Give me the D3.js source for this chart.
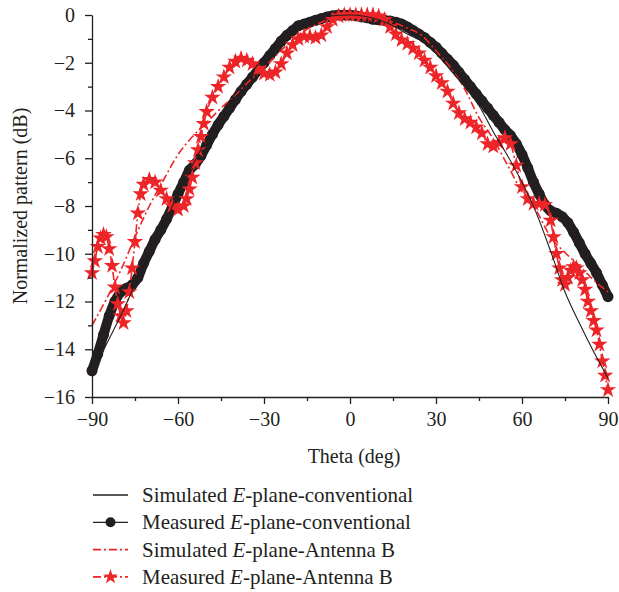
<!DOCTYPE html>
<html>
<head>
<meta charset="utf-8">
<script src="https://cdn.jsdelivr.net/npm/d3@7"></script>
<style>
  body { margin: 0; background: #fff; }
  text { font-family: "Liberation Serif", "DejaVu Serif", serif; fill: #231f20; }
</style>
</head>
<body>
<div class="d3-chart"></div>
<script>
// Simulated curves, every 5 degrees
const simTheta = [-90, -85, -80, -75, -70, -65, -60, -55, -50, -45, -40, -35, -30, -25, -20, -15, -10, -5,
  0, 5, 10, 15, 20, 25, 30, 35, 40, 45, 50, 55, 60, 65, 70, 75, 80, 85, 90];
const simConv = [-15.0, -13.8, -12.6, -11.3, -10.0, -8.8, -7.5, -6.3, -5.2, -4.2, -3.3, -2.5, -1.8, -1.2, -0.7, -0.35, -0.12, -0.02,
  0, -0.05, -0.2, -0.45, -0.8, -1.1, -1.6, -2.3, -3.0, -3.8, -4.9, -5.9, -7.0, -8.3, -9.9, -11.6, -12.9, -14.1, -15.2];
const simB = [-13.0, -11.9, -10.7, -9.3, -8.0, -6.9, -5.85, -5.1, -4.5, -3.9, -3.35, -2.75, -2.2, -1.6, -1.05, -0.6, -0.3, -0.08,
  0, -0.05, -0.15, -0.3, -0.55, -0.85, -1.5, -2.2, -3.1, -4.3, -5.2, -6.3, -7.4, -8.2, -9.3, -9.95, -10.5, -11.1, -11.6];

// Measured conventional, every 2 degrees from -90 to 90
const measConvTheta = d3.range(-90, 91, 2);
const measConv = [-14.9, -14.2, -13.4, -12.6, -12.0, -11.6, -11.45, -11.3, -11.0, -10.4,
  -9.9, -9.4, -9.0, -8.55, -8.05, -7.5, -7.0, -6.5, -6.25, -5.9,
  -5.45, -5.0, -4.6, -4.25, -3.9, -3.55, -3.2, -2.9, -2.6, -2.3,
  -2.0, -1.7, -1.4, -1.1, -0.85, -0.65, -0.45, -0.38, -0.3, -0.22,
  -0.15, -0.08, -0.03, 0, 0, 0, -0.03, -0.08, -0.12, -0.18,
  -0.2, -0.22, -0.25, -0.3, -0.38, -0.5, -0.65, -0.8, -0.95, -1.15,
  -1.35, -1.6, -1.85, -2.1, -2.4, -2.7, -3.0, -3.3, -3.6, -3.9,
  -4.2, -4.5, -4.8, -5.05, -5.4, -5.85, -6.4, -7.0, -7.5, -7.95,
  -8.2, -8.3, -8.45, -8.7, -9.1, -9.55, -10.0, -10.4, -10.8, -11.3, -11.8];

// Measured Antenna B
const measBTheta = [-90, -89, -88, -87, -86, -85, -84, -83, -82, -81, -80, -79, -78, -77, -76, -75, -74, -73, -72,
  -70, -68, -66, -64, -62, -60, -58, -57, -56, -55, -54, -53, -52, -51, -50, -48, -46, -44, -42, -40,
  -38, -36, -34, -32, -30, -28, -26, -24, -22, -20, -18, -16, -14, -12, -10, -8, -6, -4, -2,
  0, 2, 4, 6, 8, 10, 12, 14, 16, 18, 20, 22, 24, 26, 28, 30, 32, 34, 36, 38, 40, 42, 44, 46, 48,
  50, 52, 54, 56, 58, 60, 62, 64, 66, 68, 70, 71, 72, 73, 74, 75, 76, 77, 78, 79, 80,
  81, 82, 83, 84, 85, 86, 87, 88, 89, 90];
const measB = [-10.8, -10.3, -9.7, -9.35, -9.2, -9.3, -9.8, -10.5, -11.4, -12.1, -12.6, -12.9, -12.4, -11.6, -10.6, -9.5, -8.3, -7.5, -7.1,
  -6.9, -7.0, -7.35, -7.7, -8.0, -8.15, -8.0, -7.7, -7.3, -6.8, -6.2, -5.65, -5.1, -4.55, -4.05, -3.45, -3.0, -2.6, -2.2, -1.95,
  -1.82, -1.9, -2.05, -2.25, -2.45, -2.5, -2.4, -2.05, -1.6, -1.25, -1.0, -0.9, -0.9, -0.95, -0.85, -0.5, -0.2, -0.05, 0,
  0, 0, 0, 0, 0, -0.05, -0.2, -0.5, -0.8, -1.05, -1.2, -1.4, -1.6, -1.9, -2.2, -2.55, -2.85, -3.2, -3.7, -4.1, -4.35, -4.5, -4.7, -4.95, -5.4,
  -5.5, -5.35, -5.15, -5.4, -6.3, -7.2, -7.7, -7.9, -7.9, -7.95, -8.6, -9.3, -10.0, -10.6, -11.1, -11.3, -11.0, -10.7, -10.55, -10.6, -10.8,
  -11.1, -11.5, -12.0, -12.4, -12.8, -13.2, -13.8, -14.5, -15.1, -15.7];

const xTicks = [-90, -60, -30, 0, 30, 60, 90];
const yTicks = [0, -2, -4, -6, -8, -10, -12, -14, -16];
const legendLabels = [
  ["Simulated ", "E", "-plane-conventional"],
  ["Measured ", "E", "-plane-conventional"],
  ["Simulated ", "E", "-plane-Antenna B"],
  ["Measured ", "E", "-plane-Antenna B"]
];

const width = 619, height = 592;
const black = "#231f20", red = "#ed2528";

const svg = d3.select(".d3-chart").append("svg")
  .attr("width", width)
  .attr("height", height);

const x = d3.scaleLinear([-90, 90], [92, 608]);
const y = d3.scaleLinear([-16, 0], [397, 15]);

const zip = (ts, vs) => ts.map((t, i) => [t, vs[i]]);
const line = d3.line().x(d => x(d[0])).y(d => y(d[1])).curve(d3.curveMonotoneX);

// measured conventional - dense black circles, band underneath
svg.append("path")
  .datum(zip(measConvTheta, measConv))
  .attr("fill", "none")
  .attr("stroke", black)
  .attr("stroke-width", 10)
  .attr("stroke-linejoin", "round")
  .attr("d", line);
svg.append("g")
  .attr("fill", black)
  .selectAll("circle")
  .data(zip(measConvTheta, measConv))
  .join("circle")
  .attr("cx", d => x(d[0]))
  .attr("cy", d => y(d[1]))
  .attr("r", 5.5);

// measured antenna B - red stars on a dash-dot line
const measBPts = zip(measBTheta, measB);
svg.append("path")
  .datum(measBPts)
  .attr("fill", "none")
  .attr("stroke", red)
  .attr("stroke-width", 1.6)
  .attr("stroke-dasharray", "8,3,2,3")
  .attr("d", line);

const star = d3.symbol(d3.symbolStar, 85);
svg.append("g")
  .attr("fill", red)
  .selectAll("path")
  .data(measBPts)
  .join("path")
  .attr("transform", d => `translate(${x(d[0])},${y(d[1])})`)
  .attr("d", star);

// simulated antenna B - dash dot
svg.append("path")
  .datum(zip(simTheta, simB))
  .attr("fill", "none")
  .attr("stroke", red)
  .attr("stroke-width", 1.6)
  .attr("stroke-dasharray", "8,3,2,3")
  .attr("d", line);

// simulated conventional - thin black
svg.append("path")
  .datum(zip(simTheta, simConv))
  .attr("fill", "none")
  .attr("stroke", black)
  .attr("stroke-width", 1.1)
  .attr("d", line);

// axes
const fmt = d => d < 0 ? "\u2212" + Math.abs(d) : d;
const xAxis = svg.append("g")
  .attr("transform", `translate(0,${y(-16)})`)
  .call(d3.axisBottom(x).tickValues(xTicks).tickSize(7).tickSizeOuter(0).tickFormat(fmt));
svg.append("g")
  .attr("transform", `translate(0,${y(-16)})`)
  .call(d3.axisBottom(x).tickValues([-75, -45, -15, 15, 45, 75]).tickSize(4).tickFormat(""))
  .select(".domain").remove();
const yAxis = svg.append("g")
  .attr("transform", `translate(${x(-90)},0)`)
  .call(d3.axisLeft(y).tickValues(yTicks).tickSize(7).tickSizeOuter(0).tickFormat(fmt));
svg.append("g")
  .attr("transform", `translate(${x(-90)},0)`)
  .call(d3.axisLeft(y).tickValues([-1, -3, -5, -7, -9, -11, -13, -15]).tickSize(4).tickFormat(""))
  .select(".domain").remove();

svg.selectAll(".domain, .tick line").attr("stroke", black).attr("stroke-width", 1.3);
svg.selectAll(".tick text").attr("font-size", 20).attr("font-family", "Liberation Serif").attr("fill", black);
xAxis.selectAll(".tick text").attr("y", 10).attr("dy", "0.95em");
yAxis.selectAll(".tick text").attr("x", -17);

svg.append("text")
  .attr("x", x(0) + 4)
  .attr("y", 463)
  .attr("text-anchor", "middle")
  .attr("font-size", 20)
  .text("Theta (deg)");

svg.append("text")
  .attr("transform", `translate(27,${y(-8)}) rotate(-90)`)
  .attr("text-anchor", "middle")
  .attr("font-size", 20)
  .text("Normalized pattern (dB)");

// legend
const legend = svg.append("g")
  .selectAll("g")
  .data(legendLabels)
  .join("g")
  .attr("transform", (d, i) => `translate(93,${495 + i * 27.3})`);

legend.append("line")
  .attr("x1", 0).attr("x2", 35)
  .attr("stroke", (d, i) => i < 2 ? black : red)
  .attr("stroke-width", (d, i) => i < 2 ? 1.3 : 1.6)
  .attr("stroke-dasharray", (d, i) => i < 2 ? null : "8,3,2,3");
legend.filter((d, i) => i === 1).append("circle").attr("cx", 17.5).attr("r", 5).attr("fill", black);
legend.filter((d, i) => i === 3).append("path").attr("transform", "translate(17.5,0)").attr("d", d3.symbol(d3.symbolStar, 70)).attr("fill", red);

const lt = legend.append("text")
  .attr("x", 49)
  .attr("dy", "0.33em")
  .attr("font-size", 21);
lt.append("tspan").text(d => d[0]);
lt.append("tspan").attr("font-style", "italic").text(d => d[1]);
lt.append("tspan").text(d => d[2]);
</script>
</body>
</html>
